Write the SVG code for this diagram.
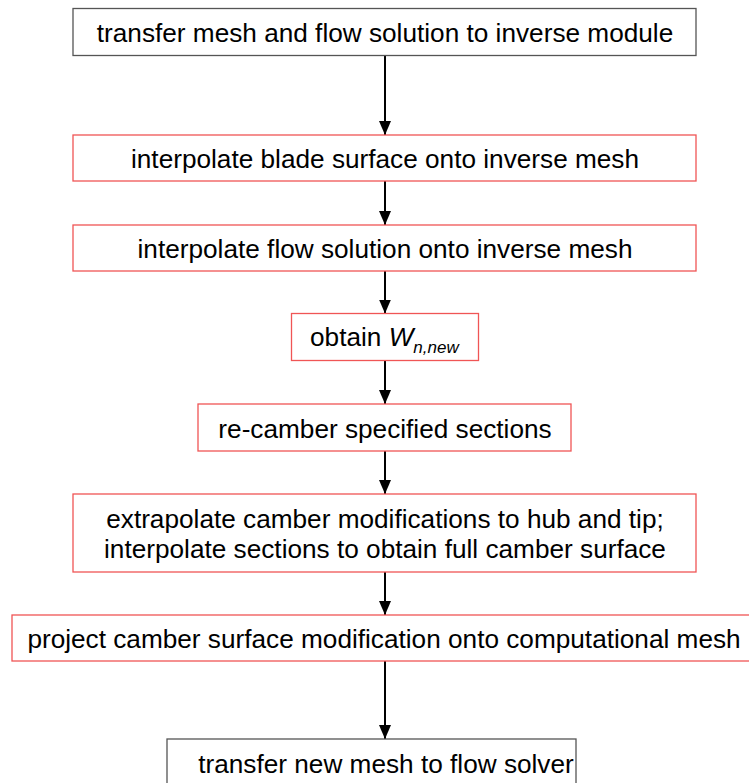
<svg xmlns="http://www.w3.org/2000/svg" width="749" height="783" viewBox="0 0 749 783">
<defs>
<marker id="ah" markerWidth="14" markerHeight="12" refX="14" refY="6" orient="auto" markerUnits="userSpaceOnUse" viewBox="0 0 14 12">
<path d="M0,0 L14,6 L0,12 Z" fill="#000"/>
</marker>
<style>
.g{fill:#fff;stroke:#555;stroke-width:1.3}
.r{fill:#fff;stroke:#f05555;stroke-width:1.3}
text{font-family:"Liberation Sans",Arial,sans-serif;font-size:26.2px;fill:#000;text-anchor:middle}
.c line{stroke:#000;stroke-width:2}
</style>
</defs>
<rect width="749" height="783" fill="#fff"/>
<g class="c" id="connectors">
<line x1="385" y1="56" x2="385" y2="135" marker-end="url(#ah)"/>
<line x1="385" y1="181" x2="385" y2="225" marker-end="url(#ah)"/>
<line x1="385" y1="271" x2="385" y2="313.5" marker-end="url(#ah)"/>
<line x1="385" y1="361" x2="385" y2="404" marker-end="url(#ah)"/>
<line x1="385" y1="451" x2="385" y2="494" marker-end="url(#ah)"/>
<line x1="385" y1="572" x2="385" y2="615" marker-end="url(#ah)"/>
<line x1="385" y1="661" x2="385" y2="739" marker-end="url(#ah)"/>
</g>
<g id="n1"><rect class="g" x="73" y="8.5" width="623" height="47"/><text x="385" y="42">transfer mesh and flow solution to inverse module</text></g>
<g id="n2"><rect class="r" x="73" y="135" width="623" height="46"/><text x="385" y="168">interpolate blade surface onto inverse mesh</text></g>
<g id="n3"><rect class="r" x="73" y="225" width="623" height="46"/><text x="385" y="258">interpolate flow solution onto inverse mesh</text></g>
<g id="n4"><rect class="r" x="291.5" y="313.5" width="187" height="47"/><text x="310" y="346" style="text-anchor:start">obtain <tspan font-style="italic">W</tspan><tspan font-style="italic" font-size="17" dy="6.5">n,new</tspan></text></g>
<g id="n5"><rect class="r" x="198" y="404" width="373" height="47"/><text x="385" y="438">re-camber specified sections</text></g>
<g id="n6"><rect class="r" x="73" y="494" width="623" height="78"/><text x="385" y="528">extrapolate camber modifications to hub and tip;</text><text x="385" y="558">interpolate sections to obtain full camber surface</text></g>
<g id="n7"><rect class="r" x="12" y="615" width="745" height="46"/><text x="384" y="648">project camber surface modification onto computational mesh</text></g>
<g id="n8"><rect class="g" x="167" y="739" width="409" height="60"/><text x="386" y="773">transfer new mesh to flow solver</text></g>
</svg>
